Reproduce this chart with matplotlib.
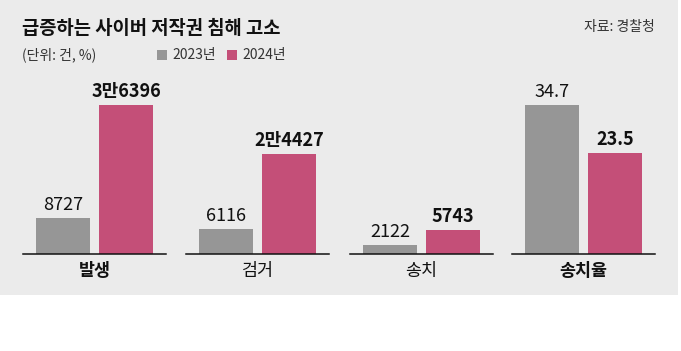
import matplotlib
matplotlib.use('Agg')
from matplotlib import pyplot as plt
from matplotlib.patches import Rectangle

plt.rcParams['font.family'] = ['Noto Sans CJK KR', 'DejaVu Sans']

# data
categories = ['발생', '검거', '송치', '송치율']
values_2023 = [8727, 6116, 2122, 34.7]
values_2024 = [36396, 24427, 5743, 23.5]
labels_2023 = ['8727', '6116', '2122', '34.7']
labels_2024 = ['3만6396', '2만4427', '5743', '23.5']
bold_category = [True, False, False, True]

gray = '#969696'
pink = '#c44f78'
bg = '#ebebeb'

W, H = 681, 351
fig = plt.figure(figsize=(W / 100, H / 100), dpi=100)
fig.patch.set_facecolor('white')
fig.patches.append(Rectangle((0, 1 - 295 / H), 678 / W, 295 / H,
                             transform=fig.transFigure, facecolor=bg,
                             edgecolor='none', zorder=-10))

fig.text(22 / W, 1 - 29 / H, '급증하는 사이버 저작권 침해 고소', fontsize=13.5,
         fontweight='bold', va='center', ha='left', color='#111111')
fig.text(655 / W, 1 - 27 / H, '자료: 경찰청', fontsize=10, va='center',
         ha='right', color='#333333')
fig.text(22 / W, 1 - 55 / H, '(단위: 건, %)', fontsize=10, va='center',
         ha='left', color='#333333')
fig.patches.append(Rectangle((157 / W, 1 - 60 / H), 10 / W, 10 / H,
                             transform=fig.transFigure, facecolor=gray,
                             edgecolor='none'))
fig.text(172 / W, 1 - 55 / H, '2023년', fontsize=10, va='center',
         ha='left', color='#333333')
fig.patches.append(Rectangle((227 / W, 1 - 60 / H), 10 / W, 10 / H,
                             transform=fig.transFigure, facecolor=pink,
                             edgecolor='none'))
fig.text(242 / W, 1 - 55 / H, '2024년', fontsize=10, va='center',
         ha='left', color='#333333')

lefts = [23, 186, 350, 512]
base_y = 254
top_y = 105
count_max = max(values_2024[:3])

for i in range(4):
    ax = fig.add_axes([lefts[i] / W, 1 - base_y / H, 143 / W, (base_y - top_y) / H])
    ax.set_facecolor('none')
    ax.bar([0, 1], [values_2023[i], values_2024[i]], width=0.86,
           color=[gray, pink])
    ax.set_xlim(-0.635, 1.635)
    if i < 3:
        ax.set_ylim(0, count_max)
    else:
        ax.set_ylim(0, values_2023[3])
    for s in ['top', 'left', 'right']:
        ax.spines[s].set_visible(False)
    ax.spines['bottom'].set_linewidth(1.1)
    ax.spines['bottom'].set_color('#111111')
    ax.set_yticks([])
    ax.set_xticks([])
    ax.annotate(labels_2023[i], (0, values_2023[i]), xytext=(0, 3),
                textcoords='offset points', ha='center', va='bottom',
                fontsize=13, color='#111111', annotation_clip=False)
    ax.annotate(labels_2024[i], (1, values_2024[i]), xytext=(0, 3),
                textcoords='offset points', ha='center', va='bottom',
                fontsize=13, fontweight='bold',
                color='#111111', annotation_clip=False)
    ax.annotate(categories[i], (0.5, 0), xycoords='axes fraction',
                xytext=(0, -17), textcoords='offset pixels',
                ha='center', va='center', fontsize=12.5,
                fontweight='bold' if bold_category[i] else 'normal',
                color='#111111', annotation_clip=False)

fig.savefig('out.png', dpi=100)
